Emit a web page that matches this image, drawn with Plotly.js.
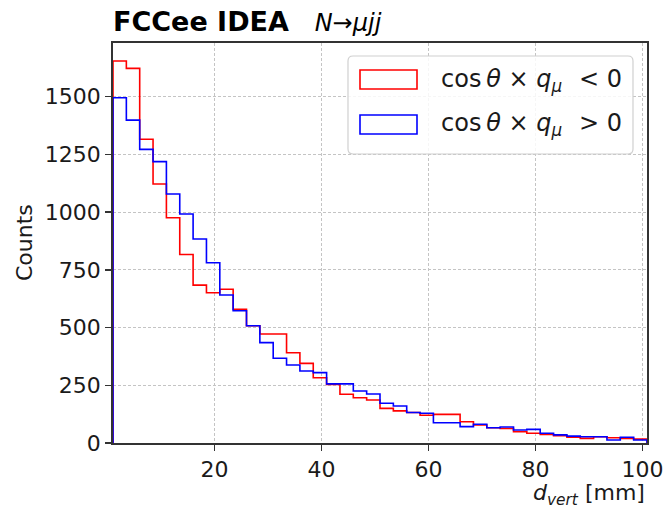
<!DOCTYPE html>
<html>
<head>
<meta charset="utf-8">
<script src="https://cdn.plot.ly/plotly-3.0.1.min.js"></script>
<style>html,body{margin:0;padding:0;background:#fff}#chart{width:666px;height:508px}</style>
</head>
<body>
<div id="chart"></div>
<script>
// Histogram binning (40 bins of d_vert in mm)
const binLow = 1.05;
const binWidth = 2.495;
const nBins = 40;

// Counts per bin, cos(theta) x q_mu < 0
const countsNeg = [1655, 1623, 1316, 1122, 976, 817, 684, 651, 666, 579,
                   508, 472, 472, 391, 345, 283, 254, 211, 196, 186,
                   150, 139, 132, 120, 124, 124, 92, 78, 66, 63,
                   49, 42, 37, 32, 25, 20, 27, 23, 20, 17];
// Counts per bin, cos(theta) x q_mu > 0
const countsPos = [1496, 1399, 1272, 1219, 1079, 992, 884, 781, 641, 573,
                   508, 435, 367, 338, 312, 305, 256, 256, 225, 212,
                   172, 160, 132, 129, 88, 88, 71, 81, 66, 69,
                   56, 59, 42, 35, 30, 27, 27, 13, 25, 13];

const xTicks = [20, 40, 60, 80, 100];
const yTicks = [0, 250, 500, 750, 1000, 1250, 1500];

const labelNeg = 'cos\u2009<i>θ</i> × <i>q</i><sub><i>μ</i></sub>\u2002\u2009&lt; 0';
const labelPos = 'cos\u2009<i>θ</i> × <i>q</i><sub><i>μ</i></sub>\u2002\u2009&gt; 0';

function stepTrace(vals, color, name) {
  const edges = [];
  for (let i = 0; i <= nBins; i++) edges.push(binLow + i * binWidth);
  const x = [edges[0]];
  const y = [0];
  for (let i = 0; i < nBins; i++) { x.push(edges[i]); y.push(vals[i]); }
  x.push(edges[nBins]); y.push(vals[nBins - 1]);
  x.push(edges[nBins]); y.push(0);
  return {x: x, y: y, type: 'scatter', mode: 'lines', name: name,
          line: {shape: 'hv', color: color, width: 1.6}, showlegend: false,
          hoverinfo: 'skip'};
}

const F = 'DejaVu Sans, Liberation Sans, sans-serif';
const traces = [stepTrace(countsNeg, '#ff0000', 'neg'), stepTrace(countsPos, '#0000ff', 'pos')];

// plot area in pixels: left 113, right 647, top 43, bottom 443
const PL = 113, PR = 647, PT = 43, PB = 443;
const px = v => (v - PL) / (PR - PL);
const py = v => (PB - v) / (PB - PT);

function roundedRect(x0, y0, x1, y1, r) {
  const rx = r / (PR - PL), ry = r / (PB - PT);
  const X0 = px(x0), X1 = px(x1), Y0 = py(y0), Y1 = py(y1);
  return `M ${X0 + rx} ${Y0} L ${X1 - rx} ${Y0} Q ${X1} ${Y0} ${X1} ${Y0 - ry} ` +
         `L ${X1} ${Y1 + ry} Q ${X1} ${Y1} ${X1 - rx} ${Y1} L ${X0 + rx} ${Y1} ` +
         `Q ${X0} ${Y1} ${X0} ${Y1 + ry} L ${X0} ${Y0 - ry} Q ${X0} ${Y0} ${X0 + rx} ${Y0} Z`;
}

const layout = {
  width: 666, height: 508,
  margin: {l: PL, r: 666 - PR, t: PT, b: 508 - PB, pad: 0},
  paper_bgcolor: '#ffffff', plot_bgcolor: '#ffffff',
  font: {family: F, size: 22, color: '#1a1a1a'},
  title: {
    text: '<b>FCCee IDEA</b>\u00a0\u00a0\u00a0<span style="font-size:24px"><i>N</i>→<i>μjj</i></span>',
    font: {family: F, size: 27, color: '#000000'},
    xref: 'paper', x: 0, xanchor: 'left',
    yref: 'container', y: 1 - 22 / 508, yanchor: 'middle'
  },
  xaxis: {
    range: [binLow, binLow + nBins * binWidth],
    tickvals: xTicks, ticktext: xTicks.map(String),
    ticks: 'outside', ticklen: 6, tickwidth: 1.4, tickcolor: '#333',
    showline: true, linecolor: '#333', linewidth: 1.8, mirror: true,
    showgrid: true, gridcolor: '#c4c4c4', gridwidth: 1, griddash: '3px,2px',
    zeroline: false, tickfont: {family: F, size: 22, color: '#1a1a1a'},
    fixedrange: true
  },
  yaxis: {
    range: [0, 1733],
    tickvals: yTicks, ticktext: yTicks.map(String),
    ticks: 'outside', ticklen: 6, tickwidth: 1.4, tickcolor: '#333',
    showline: true, linecolor: '#333', linewidth: 1.8, mirror: true,
    showgrid: true, gridcolor: '#c4c4c4', gridwidth: 1, griddash: '3px,2px',
    zeroline: false, tickfont: {family: F, size: 22, color: '#1a1a1a'},
    fixedrange: true
  },
  shapes: [
    {type: 'path', xref: 'paper', yref: 'paper', path: roundedRect(348, 56, 633, 154, 5),
     fillcolor: 'rgba(255,255,255,0.85)', line: {color: '#d0d0d0', width: 1.2}},
    {type: 'rect', xref: 'paper', yref: 'paper', x0: px(360), x1: px(417), y0: py(89), y1: py(70),
     line: {color: '#ff0000', width: 1.6}, fillcolor: 'rgba(0,0,0,0)'},
    {type: 'rect', xref: 'paper', yref: 'paper', x0: px(360), x1: px(417), y0: py(134), y1: py(115),
     line: {color: '#0000ff', width: 1.6}, fillcolor: 'rgba(0,0,0,0)'}
  ],
  annotations: [
    {text: labelNeg, xref: 'paper', yref: 'paper', x: px(439), y: py(81), xanchor: 'left', yanchor: 'middle',
     showarrow: false, font: {family: F, size: 24, color: '#1a1a1a'}},
    {text: labelPos, xref: 'paper', yref: 'paper', x: px(439), y: py(125), xanchor: 'left', yanchor: 'middle',
     showarrow: false, font: {family: F, size: 24, color: '#1a1a1a'}},
    {text: '<i>d</i><sub><i>vert</i></sub> [mm]', xref: 'paper', yref: 'paper', x: 1, y: py(494),
     xanchor: 'right', yanchor: 'middle', showarrow: false, font: {family: F, size: 22, color: '#1a1a1a'}},
    {text: 'Counts', xref: 'paper', yref: 'paper', x: px(24), y: 0.5, textangle: -90,
     xanchor: 'center', yanchor: 'middle', showarrow: false, font: {family: F, size: 22, color: '#1a1a1a'}}
  ]
};

Plotly.newPlot('chart', traces, layout, {displayModeBar: false, staticPlot: true});
</script>
</body>
</html>
